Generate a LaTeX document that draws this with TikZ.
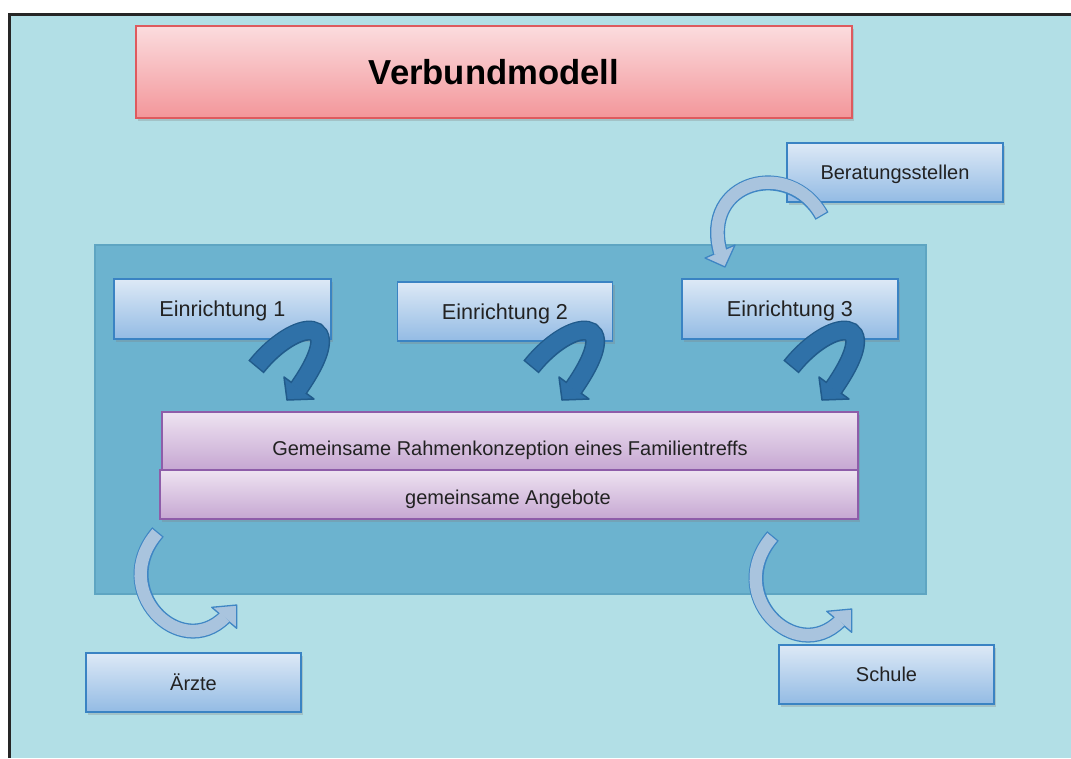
\documentclass[tikz,border=0pt]{standalone}
\usepackage{fontspec}
\setmainfont{Liberation Sans}
\usetikzlibrary{shadows}
\definecolor{bgblue}{HTML}{B2DFE6}
\definecolor{panelblue}{HTML}{6CB3CF}
\definecolor{panelborder}{HTML}{5EA5C2}
\definecolor{boxtop}{HTML}{DDE9F6}
\definecolor{boxbot}{HTML}{93BBE4}
\definecolor{boxborder}{HTML}{3A83C3}
\definecolor{titletop}{HTML}{FBDCDE}
\definecolor{titlebot}{HTML}{F3969A}
\definecolor{titleborder}{HTML}{DE5A5E}
\definecolor{lilatop}{HTML}{EEE3F1}
\definecolor{lilabot}{HTML}{C6A7D2}
\definecolor{lilaborder}{HTML}{8E5DA9}
\definecolor{darkfill}{HTML}{2F71A8}
\definecolor{darkborder}{HTML}{215B8B}
\definecolor{lightfill}{HTML}{A9C4DE}
\definecolor{lightborder}{HTML}{3F86C4}
\definecolor{txt}{HTML}{222222}
\def\u{0.75pt}
\newcommand\darkcurl[2]{%
  \begin{scope}[shift={(#1,0)}]
    \coordinate (#2-s) at (256,367);
    \coordinate (#2-e) at (298,389);
    \draw[darkborder, line width=20*\u] (#2-s) .. controls (295,318) and (352,312) .. (#2-e);
    \filldraw[fill=darkfill, draw=darkborder, line width=1.5*\u, line join=round]
      (284,377) -- (287,400) -- (314,399) -- cycle;
    \draw[darkfill, line width=17*\u, shorten <=1.5*\u] (#2-s) .. controls (295,318) and (352,312) .. (#2-e);
  \end{scope}}
\newcommand\lightcurl[3]{%
  \begin{scope}[shift={(#1,#2)}]
    \coordinate (#3-s) at (158,532);
    \coordinate (#3-e) at (225,617);
    \draw[lightborder, line width=15*\u] (#3-s) .. controls (108,590) and (180,662) .. (#3-e);
    \filldraw[fill=lightfill, draw=lightborder, line width=1.3*\u, line join=round]
      (211.7,607.3) -- (236.7,605) -- (236.7,628.3) -- cycle;
    \draw[lightfill, line width=12.4*\u, shorten <=1.3*\u] (#3-s) .. controls (108,590) and (180,662) .. (#3-e);
  \end{scope}}
\begin{document}
\begin{tikzpicture}[x=0.75pt,y=-0.75pt,
  shadowed/.style={drop shadow={shadow xshift=1.5pt, shadow yshift=-2pt, opacity=0.3}},
  bluebox/.style={rectangle, inner sep=0pt, draw=boxborder, line width=1.5*\u,
    top color=boxtop, bottom color=boxbot, text=txt, shadowed, text depth=0pt,
    font=\fontsize{15}{18}\selectfont},
  einbox/.style={bluebox, font=\fontsize{16.2}{19}\selectfont},
  titlebox/.style={rectangle, inner sep=0pt, draw=titleborder, line width=1.5*\u,
    top color=titletop, bottom color=titlebot, shadowed,
    font=\fontsize{26}{30}\selectfont\bfseries},
  lilabox/.style={rectangle, inner sep=0pt, draw=lilaborder, line width=1.5*\u,
    top color=lilatop, bottom color=lilabot, shadowed},
  lilatext/.style={text=txt, inner sep=0pt, font=\fontsize{15}{18}\selectfont},
  panelbox/.style={rectangle, inner sep=0pt, fill=panelblue, draw=panelborder, line width=1.5*\u}
]
\path[use as bounding box] (0,0) rectangle (1071,758);
\fill[white] (0,0) rectangle (1071,758);
\fill[bgblue] (9,14) rectangle (1071,758);
\draw[black!85, line width=3.5*\u] (9.3,758) -- (9.3,14.3) -- (1071,14.3);

\node[titlebox, minimum width=716*\u, minimum height=92*\u, text depth=0pt] (title) at (494,72) {Verbundmodell};

\node[panelbox, minimum width=831*\u, minimum height=349*\u] (panel) at (510.5,419.5) {};

\node[einbox, minimum width=217*\u, minimum height=60*\u] (e1) at (222.5,309) {Einrichtung 1};
\node[einbox, minimum width=215*\u, minimum height=59*\u] (e2) at (505,311.5) {Einrichtung 2};
\node[einbox, minimum width=216*\u, minimum height=60*\u] (e3) at (790,309) {Einrichtung 3};

\node[lilabox, minimum width=696*\u, minimum height=58*\u] (gem) at (510,441) {};
\node[lilatext] (gemtext) at (510,450) {Gemeinsame Rahmenkonzeption eines Familientreffs};
\node[lilabox, minimum width=698*\u, minimum height=49*\u] (ang) at (509,494.5) {};
\node[lilatext] (angtext) at (508,499) {gemeinsame Angebote};

\node[bluebox, minimum width=216*\u, minimum height=59*\u] (ber) at (895,172.5) {Beratungsstellen};
\node[bluebox, minimum width=215*\u, minimum height=59*\u] (aerzte) at (193.5,682.5) {Ärzte};
\node[bluebox, minimum width=215*\u, minimum height=59*\u] (schule) at (886.5,674.5) {Schule};

% arrow from Beratungsstellen into the panel
\coordinate (ber-s) at (822,216);
\coordinate (ber-e) at (720.5,253);
\draw[lightborder, line width=15*\u] (ber-s) .. controls (790,158) and (700,180) .. (ber-e);
\filldraw[fill=lightfill, draw=lightborder, line width=1.3*\u, line join=round]
  (705,258) -- (725,267) -- (735,245) -- cycle;
\draw[lightfill, line width=12.4*\u, shorten <=1.3*\u] (ber-s) .. controls (790,158) and (700,180) .. (ber-e);

% Einrichtung arrows
\darkcurl{0}{c1}
\darkcurl{275}{c2}
\darkcurl{535}{c3}

% arrows out of the panel
\lightcurl{0}{0}{ca}
\lightcurl{615}{4}{cs}
\end{tikzpicture}
\end{document}
